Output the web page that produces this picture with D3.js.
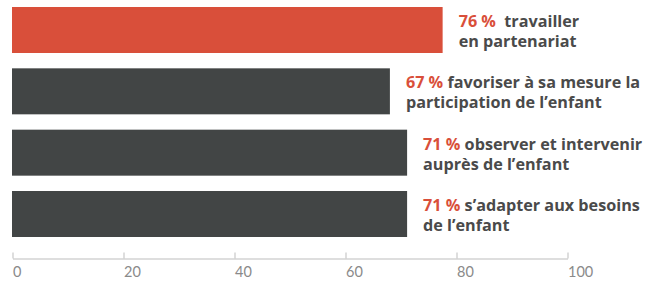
<style>
body { margin: 0; background: #fff; }
.axis path, .axis line { stroke: #bdbdbd; }
.axis text { font-family: Lato, "Open Sans", sans-serif; font-weight: 400; font-size: 14.5px; fill: #8a8a8a; }
.label { font-family: "Open Sans", sans-serif; font-weight: 700; font-size: 16.2px; fill: #4a4a4a; white-space: pre; }
.label .pct { fill: #d94f3a; }
</style>

<svg width="652" height="283"></svg>

<script src="https://d3js.org/d3.v7.min.js"></script>

<script type="text/javascript">

    // data
    var items = ["travailler en partenariat", "favoriser à sa mesure la participation", "observer et intervenir", "s'adapter aux besoins"];
    var barValues = [77.5, 68, 71.1, 71.1];
    var pctLabels = ["76 %", "67 %", "71 %", "71 %"];
    var line1 = ["  travailler", " favoriser à sa mesure la", " observer et intervenir", " s\u2019adapter aux besoins"];
    var line2 = ["en partenariat", "participation de l\u2019enfant", "auprès de l\u2019enfant", "de l\u2019enfant"];
    var highlight = [true, false, false, false];
    var ticks = [0, 20, 40, 60, 80, 100];

    var svg = d3.select("svg");

    var x = d3.scaleLinear()
        .domain([0, 100])
        .range([12.5, 567.5]);

    var y = d3.scaleBand()
        .domain(items)
        .range([7, 237])
        .paddingInner(0.25)
        .paddingOuter(0);

    //bars
    svg.selectAll(".bar")
        .data(items)
        .enter().append("rect")
        .attr("class", "bar")
        .attr("x", x(0) - 0.5)
        .attr("y", function(d) { return y(d); })
        .attr("width", function(d, i) { return x(barValues[i]) - x(0) + 0.5; })
        .attr("height", y.bandwidth())
        .attr("fill", function(d, i) { return highlight[i] ? "#d94f3a" : "#424545"; });

    //labels
    var labels = svg.selectAll(".label")
        .data(items)
        .enter().append("text")
        .attr("class", "label")
        .attr("x", function(d, i) { return x(barValues[i]) + 16; })
        .attr("y", function(d) { return y(d) + 20; });

    labels.append("tspan")
        .attr("class", "pct")
        .text(function(d, i) { return pctLabels[i]; });
    labels.append("tspan")
        .text(function(d, i) { return line1[i]; });
    labels.append("tspan")
        .attr("x", function(d, i) { return x(barValues[i]) + 16; })
        .attr("dy", 20)
        .text(function(d, i) { return line2[i]; });

    //axis
    var xAxis = d3.axisTop(x)
        .tickValues(ticks)
        .tickSize(6)
        .tickSizeOuter(0)
        .tickFormat(d3.format("d"));

    var axisG = svg.append("g")
        .attr("class", "axis")
        .attr("transform", "translate(0,258.5)")
        .call(xAxis);

    axisG.selectAll(".tick text")
        .attr("text-anchor", "start")
        .attr("y", 18.5)
        .attr("dy", 0);

</script>
